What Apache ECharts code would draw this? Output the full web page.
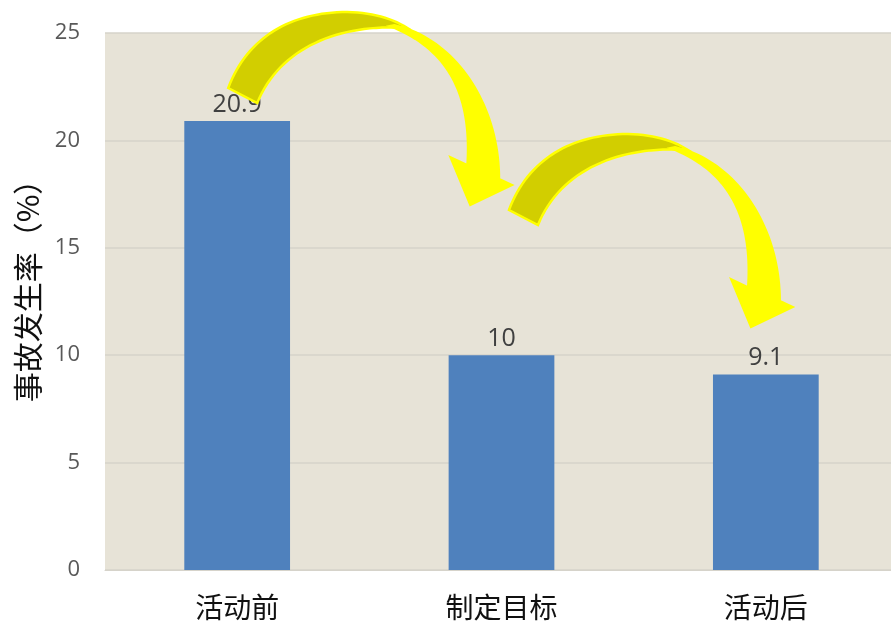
<!DOCTYPE html>
<html>
<head>
<meta charset="utf-8">
<script src="https://cdn.jsdelivr.net/npm/echarts@6/dist/echarts.min.js"></script>
<style>
  html, body { margin: 0; padding: 0; background: #ffffff; }
  #chart { width: 891px; height: 624px; }
</style>
</head>
<body>
<div id="chart"></div>
<script>
// Accident rate before / target / after the improvement activity
const categories = ['活动前', '制定目标', '活动后'];
const rates = [20.9, 10, 9.1];
const yMin = 0;
const yMax = 25;
const yStep = 5;

const chart = echarts.init(document.getElementById('chart'), null, { renderer: 'canvas' });

chart.setOption({
  animation: false,
  backgroundColor: '#ffffff',
  grid: {
    left: 105, width: 793, top: 33, bottom: 54,
    outerBoundsMode: 'none',
    containLabel: false,
    show: true, backgroundColor: '#E7E3D7', borderWidth: 0
  },
  xAxis: {
    type: 'category',
    data: categories,
    axisLine: { show: true, lineStyle: { color: '#D6D3CA', width: 1 } },
    axisTick: { show: false },
    axisLabel: {
      color: '#111111', fontSize: 28, margin: 23,
      fontFamily: '"Noto Sans CJK SC", sans-serif'
    }
  },
  yAxis: {
    type: 'value',
    min: yMin, max: yMax, interval: yStep,
    name: '事故发生率（%）',
    nameLocation: 'middle',
    nameRotate: 90,
    nameGap: 62,
    nameTextStyle: {
      color: '#111111', fontSize: 30,
      padding: [0, 0, 0, 36],
      fontFamily: '"Noto Sans CJK SC", sans-serif'
    },
    axisLine: { show: false },
    axisTick: { show: false },
    axisLabel: {
      color: '#595959', fontSize: 22, margin: 25,
      fontFamily: '"Open Sans", "Noto Sans", sans-serif'
    },
    splitLine: { lineStyle: { color: '#D6D3CA', width: 1.5 } }
  },
  series: [{
    type: 'bar',
    data: rates,
    barWidth: '40%',
    itemStyle: { color: '#4F81BD' },
    label: {
      show: true, position: 'top', distance: 4,
      color: '#404040', fontSize: 25,
      fontFamily: '"Open Sans", "Noto Sans", sans-serif'
    }
  }]
});

// ---- curved "flow" arrows between the bars ----
// Outline of one arrow in local pixels: a darker back band rising from the tail,
// and a bright front band curving down into the arrowhead.
function cubic(p0, p1, p2, p3, n) {
  const pts = [];
  for (let i = 0; i <= n; i++) {
    const t = i / n, s = 1 - t;
    pts.push([
      s*s*s*p0[0] + 3*s*s*t*p1[0] + 3*s*t*t*p2[0] + t*t*t*p3[0],
      s*s*s*p0[1] + 3*s*s*t*p1[1] + 3*s*t*t*p2[1] + t*t*t*p3[1]
    ]);
  }
  return pts;
}
function quad(p0, p1, p2, n) {
  const pts = [];
  for (let i = 0; i <= n; i++) {
    const t = i / n, s = 1 - t;
    pts.push([
      s*s*p0[0] + 2*s*t*p1[0] + t*t*p2[0],
      s*s*p0[1] + 2*s*t*p1[1] + t*t*p2[1]
    ]);
  }
  return pts;
}

const backBand = [].concat(
  cubic([-1, 75], [18, 24], [62, -1], [118, -1], 32),
  quad([118, -1], [155, 0], [178, 15], 14).slice(1),
  cubic([178, 15], [110, 10], [50, 35], [28, 90], 32).slice(1)
);
const frontBand = [].concat(
  cubic([165, 12], [225, 25], [270, 90], [270, 166], 40),
  [[283, 172], [241, 192], [221, 144], [238, 152]],
  cubic([238, 152], [242, 90], [225, 38], [160, 13], 40).slice(1)
);

// where each arrow's top-left corner sits, in (category index, value) units
const arrowAnchors = [
  [-0.030, 25.93],
  [1.032, 20.25]
];

function place(anchor) {
  const a = chart.convertToPixel({ gridIndex: 0 }, [0, anchor[1]]);
  const b = chart.convertToPixel({ gridIndex: 0 }, [1, anchor[1]]);
  return [a[0] + anchor[0] * (b[0] - a[0]), a[1]];
}

const arrowGraphics = [];
arrowAnchors.forEach(function (anc, i) {
  const pos = place(anc);
  const shift = function (pts) { return pts.map(p => [p[0] + pos[0], p[1] + pos[1]]); };
  arrowGraphics.push({
    type: 'polygon', id: 'back' + i, z: 10,
    shape: { points: shift(backBand) },
    style: { fill: '#D2CE00', stroke: '#FFFF00', lineWidth: 2.5, lineJoin: 'miter' }
  });
  arrowGraphics.push({
    type: 'polygon', id: 'front' + i, z: 11,
    shape: { points: shift(frontBand) },
    style: { fill: '#FFFF00', stroke: '#FFFF00', lineWidth: 2, lineJoin: 'miter' }
  });
});

chart.setOption({ graphic: arrowGraphics });
</script>
</body>
</html>
